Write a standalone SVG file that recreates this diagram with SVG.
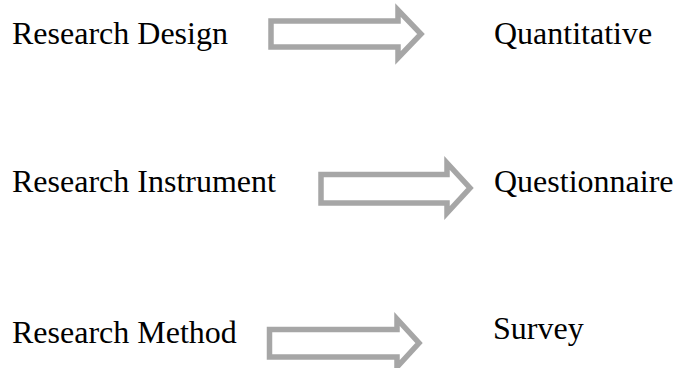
<svg xmlns="http://www.w3.org/2000/svg" width="673" height="368" viewBox="0 0 673 368">
<style>
.t{font-family:"Liberation Serif","Times New Roman",serif;font-size:32px;fill:#000}
.a{fill:#fff;stroke:#a6a6a6;stroke-width:5.5;stroke-linejoin:miter}
</style>
<rect width="673" height="368" fill="#fff"/>
<g id="connectors">
<path class="a" d="M271,21 H398 V10 L421,34 L398,58 V47 H271 Z"/>
<path class="a" d="M321,174.5 H447 V163 L470,188 L447,213 V203 H321 Z"/>
<path class="a" d="M269.5,329.5 H397 V319 L419,343 L397,367 V357 H269.5 Z"/>
</g>
<g id="n1"><text class="t" x="12" y="44">Research Design</text></g>
<g id="n2"><text class="t" x="494" y="44">Quantitative</text></g>
<g id="n3"><text class="t" x="12" y="192">Research Instrument</text></g>
<g id="n4"><text class="t" x="494" y="192">Questionnaire</text></g>
<g id="n5"><text class="t" x="12" y="343">Research Method</text></g>
<g id="n6"><text class="t" x="493" y="339">Survey</text></g>
</svg>
